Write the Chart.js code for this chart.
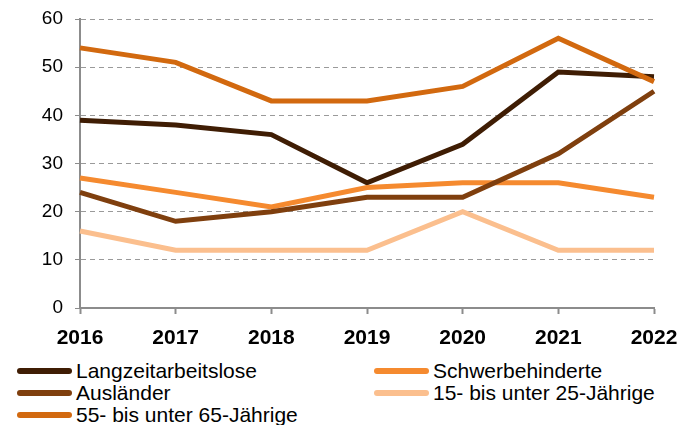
<!DOCTYPE html>
<html>
<head>
<meta charset="utf-8">
<script src="https://cdn.jsdelivr.net/npm/chart.js@4"></script>
<style>
    body { margin: 0; background: #fff; font-family: "Liberation Sans", Arial, sans-serif; }
    #wrap { position: relative; width: 679px; height: 425px; overflow: hidden; }
    #chartBox { position: absolute; left: 0; top: 0; width: 679px; height: 350px; }
    #legend { position: absolute; left: 0; top: 360px; width: 679px; }
    .leg-item { position: absolute; display: flex; align-items: center; height: 22px; font-size: 21px; color: #000; white-space: nowrap; }
    .leg-line { width: 55px; height: 6px; border-radius: 3px; margin-right: 4px; }
</style>
</head>
<body>
<div id="wrap">
    <div id="chartBox"><canvas id="lineChart"></canvas></div>
    <div id="legend"></div>
</div>
<script>
// -----------------------------
// Données
// -----------------------------
const years = ["2016", "2017", "2018", "2019", "2020", "2021", "2022"];

const langzeitarbeitslose = [39, 38, 36, 26, 34, 49, 48];
const schwerbehinderte    = [27, 24, 21, 25, 26, 26, 23];
const auslaender          = [24, 18, 20, 23, 23, 32, 45];
const jugendliche         = [16, 12, 12, 12, 20, 12, 12];
const aeltere             = [54, 51, 43, 43, 46, 56, 47];

const yTicks = [0, 10, 20, 30, 40, 50, 60];

const FONT = "'Liberation Sans', Arial, sans-serif";
const AXIS = "#8c8c8c";

// -----------------------------
// Séries
// -----------------------------
const series = [
    { label: "Langzeitarbeitslose",       data: langzeitarbeitslose, color: "#3f1d04" },
    { label: "Schwerbehinderte",          data: schwerbehinderte,    color: "#f58a2f" },
    { label: "Ausländer",                 data: auslaender,          color: "#7f3f0e" },
    { label: "15- bis unter 25-Jährige",  data: jugendliche,         color: "#fbbf8e" },
    { label: "55- bis unter 65-Jährige",  data: aeltere,             color: "#d2690f" }
];

const chart = new Chart(document.getElementById("lineChart"), {
    type: "line",
    data: {
        labels: years,
        datasets: series.map((s, i) => ({
            label: s.label,
            data: s.data,
            borderColor: s.color,
            backgroundColor: s.color,
            borderWidth: 5,
            pointRadius: 0,
            tension: 0,
            fill: false,
            order: series.length - i
        }))
    },
    options: {
        responsive: true,
        maintainAspectRatio: false,
        animation: false,
        layout: { padding: { top: 19, right: 25, left: 0, bottom: 0 } },
        plugins: {
            legend: { display: false },
            tooltip: { enabled: false }
        },
        scales: {
            x: {
                offset: false,
                afterFit: (s) => {
                    s.height = 42;
                    s.paddingLeft = 0;
                    s.paddingRight = 0;
                },
                border: { color: AXIS, width: 2 },
                grid: {
                    drawOnChartArea: false,
                    drawTicks: true,
                    tickLength: 6,
                    tickColor: AXIS,
                    tickWidth: 2
                },
                ticks: {
                    color: "#000",
                    padding: 12,
                    maxRotation: 0,
                    font: { family: FONT, size: 21, weight: "bold" }
                }
            },
            y: {
                min: 0,
                max: 60,
                afterFit: (s) => {
                    s.width = 80;
                    s.paddingTop = 0;
                    s.paddingBottom = 0;
                },
                afterBuildTicks: (s) => { s.ticks = yTicks.map(v => ({ value: v })); },
                border: { color: AXIS, width: 2, dash: [5, 4] },
                grid: {
                    color: "#9a9a9a",
                    lineWidth: 1,
                    tickLength: 5,
                    tickColor: AXIS,
                    tickBorderDash: []
                },
                ticks: {
                    color: "#000",
                    padding: 12,
                    font: { family: FONT, size: 19 }
                }
            }
        }
    }
});

// -----------------------------
// Légende HTML (2 colonnes)
// -----------------------------
function buildLegend(c) {
    const box = document.getElementById("legend");
    const colX = [17, 374];
    const rowY = [0, 22, 44];
    c.data.datasets.forEach((ds, i) => {
        const item = document.createElement("div");
        item.className = "leg-item";
        item.style.left = colX[i % 2] + "px";
        item.style.top = rowY[Math.floor(i / 2)] + "px";
        item.innerHTML = `<span class="leg-line" style="background:${ds.borderColor}"></span>${ds.label}`;
        box.appendChild(item);
    });
}

buildLegend(chart);
</script>
</body>
</html>
